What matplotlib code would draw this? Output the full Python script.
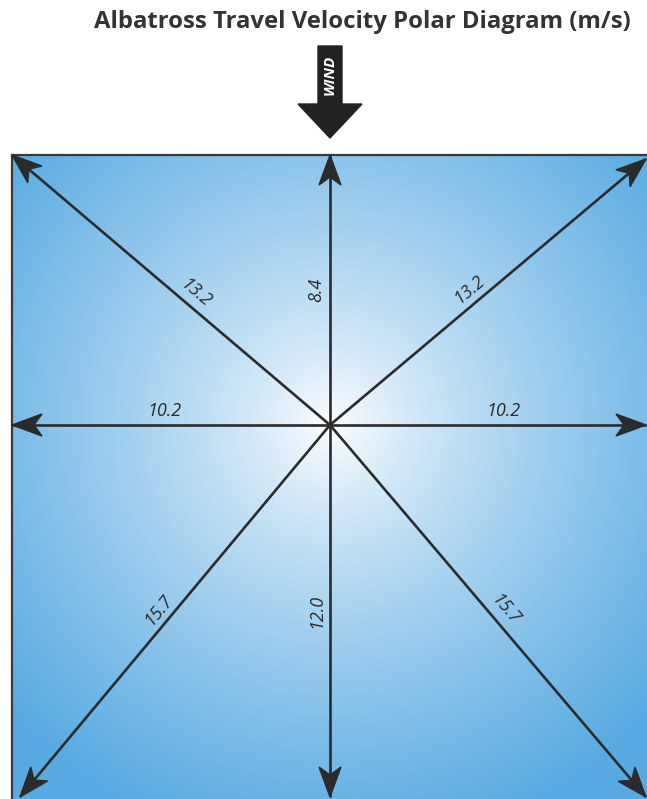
import numpy as np
import matplotlib
matplotlib.use("Agg")
import matplotlib.pyplot as plt
from matplotlib.patches import Polygon

# directions (compass point the albatross travels toward) and speeds in m/s
directions = ["N", "NE", "E", "SE", "S", "SW", "W", "NW"]
speeds = [8.4, 13.2, 10.2, 15.7, 12.0, 15.7, 10.2, 13.2]
title = "Albatross Travel Velocity Polar Diagram (m/s)"

W, H = 647, 799
cx, cy = 330, 425          # centre of the diagram (pixels)
left, top = 12, 155        # box edges visible in the frame
right, bottom = 646, 797   # arrow tips on the right / bottom

fig = plt.figure(figsize=(W / 100, H / 100), dpi=100)
ax = fig.add_axes([0, 0, 1, 1])
ax.set_xlim(0, W)
ax.set_ylim(H, 0)
ax.axis("off")

# radial blue gradient background
xs = np.arange(left, W + 1)
ys = np.arange(top, H + 1)
X, Y = np.meshgrid(xs, ys)
d = np.sqrt((X - cx) ** 2 + (Y - cy) ** 2)
t = np.clip(d / 430, 0, 1) ** 0.8
edge = np.array([88, 170, 226]) / 255
img = (1 - t[..., None]) * np.ones(3) + t[..., None] * edge
ax.imshow(img, extent=[left, W + 1, H + 1, top], aspect="auto", zorder=0)

# box border (top and left visible)
ax.plot([left, W + 5], [top, top], color="#3a3a3a", lw=1.6, zorder=1)
ax.plot([left, left], [top, H + 5], color="#3a3a3a", lw=1.6, zorder=1)

ends = {
    "N": (cx, top), "NE": (right, top + 4), "E": (right, cy),
    "SE": (right, bottom), "S": (cx, bottom), "SW": (left + 8, bottom),
    "W": (left, cy), "NW": (left, top),
}
# where along each arrow the label sits
frac = {"N": 0.5, "S": 0.5, "E": 0.55, "W": 0.52,
        "NE": 0.47, "NW": 0.45, "SE": 0.52, "SW": 0.52}

col = "#2b2b2b"


def head(tip, base, L=30, Wd=11, notch=8):
    v = np.array(tip, float) - np.array(base, float)
    u = v / np.hypot(*v)
    n = np.array([-u[1], u[0]])
    tip = np.array(tip, float)
    b = tip - u * L
    return [tip, b + n * Wd, tip - u * (L - notch), b - n * Wd]


for dname, spd in zip(directions, speeds):
    ex, ey = ends[dname]
    ax.plot([cx, ex], [cy, ey], color=col, lw=1.9, zorder=3, solid_capstyle="butt")
    ax.add_patch(Polygon(head((ex, ey), (cx, cy)), closed=True, color=col, zorder=4))

    dx, dy = ex - cx, ey - cy
    rot = np.degrees(np.arctan2(-dy, dx))
    if rot > 90:
        rot -= 180
    if rot <= -90:
        rot += 180
    ln = np.hypot(dx, dy)
    ux, uy = dx / ln, dy / ln
    nx, ny = uy, -ux
    if ny > 0 or (ny == 0 and nx > 0):
        nx, ny = -nx, -ny
    off = 14
    if dname in ("N", "S"):
        nx, ny = -1, 0
    px = cx + dx * frac[dname] + nx * off
    py = cy + dy * frac[dname] + ny * off
    ax.text(px, py, f"{spd:.1f}", rotation=rot, ha="center", va="center",
            rotation_mode="anchor", fontsize=13, style="italic",
            family="Open Sans", color="#2b2b2b", zorder=5)

# wind arrow
wind = Polygon([(318, 46), (342, 46), (342, 104), (362, 104), (330, 138),
                (298, 104), (318, 104)], closed=True, color="#222222", zorder=5)
ax.add_patch(wind)
ax.text(330, 75, "WIND", rotation=90, ha="center", va="center", color="white",
        fontsize=11, fontweight="bold", style="italic", family="Open Sans", zorder=6)

ax.text(362, 22, title, ha="center", va="center", fontsize=17.2,
        fontweight="bold", family="Open Sans", color="#333333")

fig.savefig("out.png", dpi=100)
